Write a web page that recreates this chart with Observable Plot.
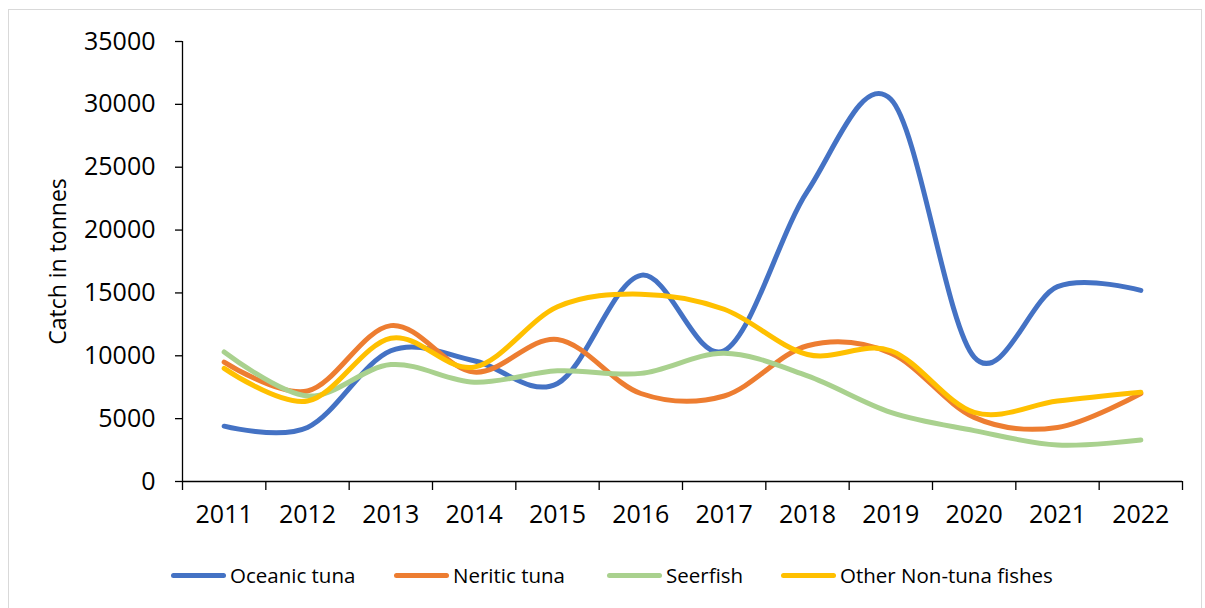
<!DOCTYPE html>
<html>
<head>
<meta charset="utf-8">
<script src="https://cdn.jsdelivr.net/npm/d3@7"></script>
<script src="https://cdn.jsdelivr.net/npm/@observablehq/plot@0.6"></script>
<style>
  html, body { margin: 0; padding: 0; background: #fff; }
  body { width: 1205px; height: 608px; position: relative; overflow: hidden; font-family: "Open Sans", sans-serif; }
  #frame { position: absolute; left: 8px; top: 9px; width: 1194px; height: 604px; border: 1px solid #d9d9d9; box-sizing: border-box; }
  #chart { position: absolute; left: 0; top: 0; }
  #legend { position: absolute; top: 560px; left: 0; width: 1205px; height: 30px; }
  .item { position: absolute; top: 0; display: flex; align-items: center; height: 30px; font-size: 20.5px; color: #000; white-space: nowrap; }
  .sw { display: inline-block; width: 55px; height: 5px; border-radius: 3px; margin-right: 4px; }
</style>
</head>
<body>
<div id="frame"></div>
<div id="chart"></div>
<div id="legend"></div>
<script>
const years = [2011, 2012, 2013, 2014, 2015, 2016, 2017, 2018, 2019, 2020, 2021, 2022];
const seriesNames = ["Oceanic tuna", "Neritic tuna", "Seerfish", "Other Non-tuna fishes"];
const seriesColors = ["#4472C4", "#ED7D31", "#A9D18E", "#FFC000"];
const oceanicTuna = [4400, 4300, 10400, 9600, 7800, 16400, 10400, 23100, 30400, 9900, 15500, 15200];
const neriticTuna = [9500, 7200, 12400, 8700, 11300, 7000, 6800, 10800, 10200, 5100, 4300, 7000];
const seerfish = [10300, 6800, 9300, 7900, 8800, 8600, 10200, 8400, 5500, 4050, 2900, 3300];
const otherNonTuna = [9000, 6400, 11400, 9100, 13900, 14900, 13700, 10100, 10400, 5500, 6400, 7100];
const yTicks = [0, 5000, 10000, 15000, 20000, 25000, 30000, 35000];
const yLabel = "Catch in tonnes";

const allSeries = [oceanicTuna, neriticTuna, seerfish, otherNonTuna];
const data = [];
allSeries.forEach((vals, si) => {
  vals.forEach((v, i) => data.push({ series: seriesNames[si], year: years[i], value: v }));
});
const bounds = [years[0] - 0.5, ...years.map(y => y + 0.5)];

const fontFamily = '"Open Sans", sans-serif';
const chart = Plot.plot({
  width: 1205,
  height: 540,
  marginLeft: 182,
  marginRight: 23,
  marginTop: 41,
  marginBottom: 59,
  style: { fontFamily, fontSize: "25px", color: "#000", background: "transparent", overflow: "visible" },
  x: { type: "linear", domain: [bounds[0], bounds[bounds.length - 1]], axis: null },
  y: { domain: [0, 35000], axis: null },
  color: { domain: seriesNames, range: seriesColors },
  marks: [
    Plot.axisY({ ticks: yTicks, tickFormat: d => String(d), tickSize: 7, tickPadding: 20, label: null, stroke: "#000", strokeWidth: 1.3, fontSize: 25 }),
    Plot.axisX({ ticks: bounds, tickFormat: () => "", tickSize: 9, label: null, stroke: "#000", strokeWidth: 1.3 }),
    Plot.axisX({ ticks: years, tickFormat: d => String(d), tickSize: 0, tickPadding: 24, label: null, fontSize: 25 }),
    Plot.ruleX([bounds[0]], { stroke: "#000", strokeWidth: 1.3 }),
    Plot.ruleY([0], { stroke: "#000", strokeWidth: 1.3 }),
    Plot.text([yLabel], { frameAnchor: "left", textAnchor: "middle", dx: -124, rotate: -90, fontSize: 23, fill: "#000" }),
    Plot.line(data, { x: "year", y: "value", z: "series", stroke: "series", strokeWidth: 5, curve: "cardinal", tension: 0, strokeLinecap: "round", strokeLinejoin: "round" })
  ]
});
document.getElementById("chart").appendChild(chart);

const legendX = [171, 394, 607, 781];
const legend = document.getElementById("legend");
seriesNames.forEach((name, i) => {
  const it = document.createElement("div");
  it.className = "item";
  it.style.left = legendX[i] + "px";
  const sw = document.createElement("span");
  sw.className = "sw";
  sw.style.background = seriesColors[i];
  const t = document.createElement("span");
  t.textContent = name;
  it.appendChild(sw);
  it.appendChild(t);
  legend.appendChild(it);
});
</script>
</body>
</html>
